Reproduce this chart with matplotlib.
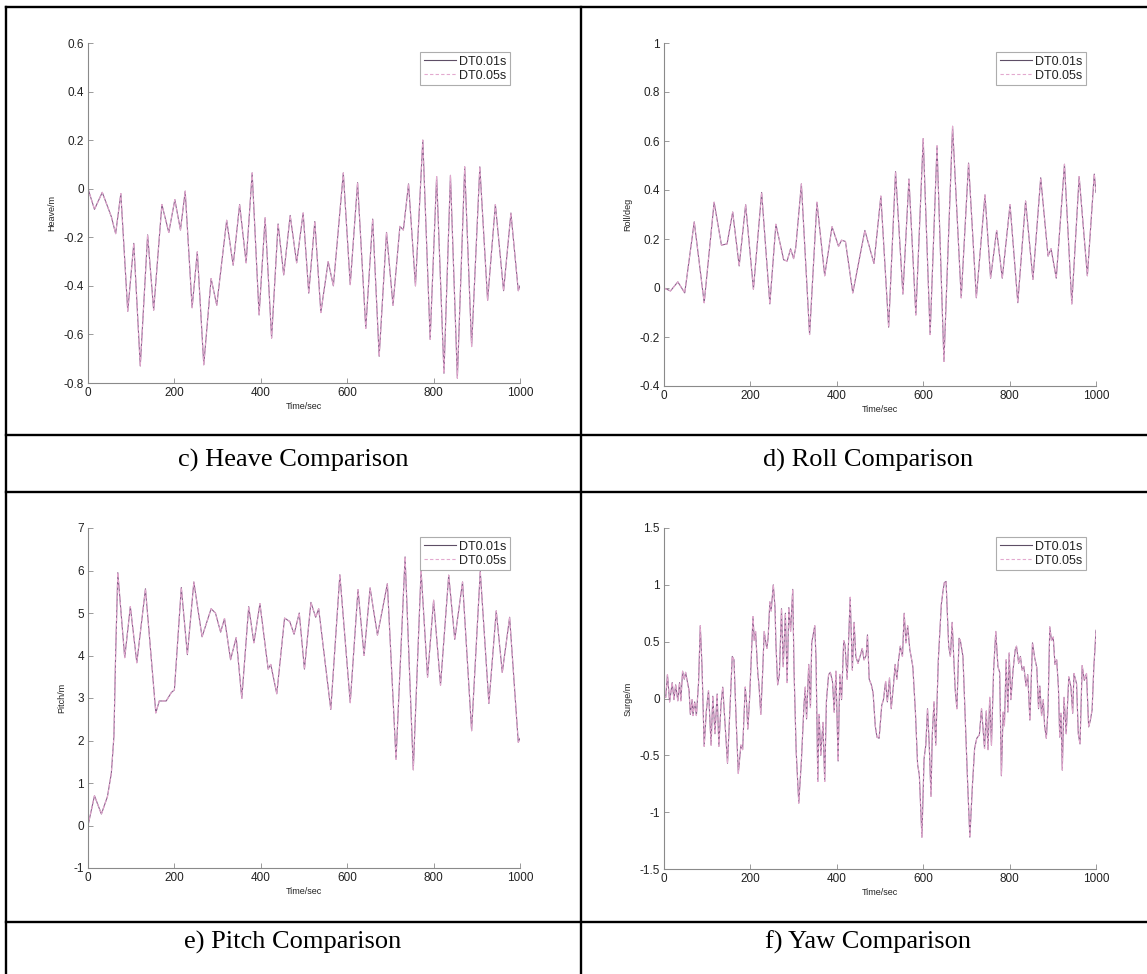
import matplotlib
matplotlib.use("Agg")
import matplotlib.pyplot as plt
from matplotlib.lines import Line2D
from matplotlib.ticker import FuncFormatter

plt.rcParams['font.family'] = ['Liberation Sans', 'DejaVu Sans']
plt.rcParams['axes.unicode_minus'] = False

# === data (time in s) ===
heave_t = [0, 15, 33, 54, 64, 76, 92, 106, 121, 138, 152, 171, 187, 201, 214, 225, 241, 253, 268,
           285, 298, 321, 336, 351, 366, 380, 396, 410, 425, 440, 453, 468, 483, 498, 511, 525,
           539, 556, 568, 591, 607, 624, 643, 659, 674, 691, 706, 722, 730, 742, 758, 775, 792,
           807, 824, 839, 855, 872, 888, 907, 925, 943, 962, 979, 996, 1000]
heave_dt001 = [0.0, -0.085, -0.015, -0.115, -0.185, -0.02, -0.505, -0.225, -0.73, -0.19, -0.5,
               -0.065, -0.18, -0.045, -0.17, -0.01, -0.49, -0.26, -0.725, -0.37, -0.48, -0.13,
               -0.315, -0.065, -0.305, 0.065, -0.52, -0.12, -0.615, -0.145, -0.355, -0.11,
               -0.305, -0.10, -0.43, -0.135, -0.51, -0.30, -0.40, 0.065, -0.395, 0.025, -0.575,
               -0.125, -0.69, -0.18, -0.48, -0.155, -0.17, 0.02, -0.40, 0.20, -0.62, 0.05,
               -0.76, 0.055, -0.78, 0.09, -0.65, 0.09, -0.46, -0.065, -0.42, -0.10, -0.42, -0.40]
heave_dt005 = list(heave_dt001)

roll_t = [0, 15, 32, 48, 70, 93, 116, 133, 146, 159, 174, 189, 207, 226, 245, 259, 277, 285, 293,
          300, 305, 318, 337, 354, 372, 389, 404, 411, 420, 437, 465, 486, 502, 520, 536, 553,
          567, 583, 600, 616, 632, 648, 668, 688, 705, 723, 743, 756, 770, 783, 801, 819, 837,
          854, 872, 889, 896, 908, 927, 944, 961, 980, 996, 1000]
roll_dt001 = [0.0, -0.012, 0.025, -0.02, 0.27, -0.06, 0.35, 0.175, 0.18, 0.31, 0.09, 0.34, -0.005,
              0.39, -0.065, 0.26, 0.115, 0.11, 0.16, 0.12, 0.165, 0.425, -0.19, 0.35, 0.05, 0.25,
              0.17, 0.195, 0.19, -0.02, 0.235, 0.10, 0.375, -0.16, 0.475, -0.025, 0.445, -0.11,
              0.61, -0.19, 0.58, -0.30, 0.66, -0.04, 0.51, -0.04, 0.38, 0.04, 0.235, 0.04, 0.34,
              -0.06, 0.355, 0.035, 0.45, 0.13, 0.16, 0.04, 0.505, -0.065, 0.455, 0.05, 0.465, 0.39]
roll_dt005 = list(roll_dt001)

pitch_t = [0, 15, 31, 45, 54, 60, 64, 69, 85, 98, 113, 133, 157, 165, 181, 193, 200, 216, 230,
           245, 264, 285, 295, 307, 316, 330, 343, 356, 372, 384, 398, 417, 423, 437, 455, 467,
           477, 489, 501, 516, 527, 534, 562, 583, 607, 625, 639, 653, 670, 693, 713, 734, 753,
           771, 786, 800, 816, 835, 849, 867, 888, 908, 928, 945, 959, 976, 996, 1000]
pitch_dt001 = [0.0, 0.7, 0.27, 0.68, 1.23, 2.1, 4.05, 5.95, 3.95, 5.15, 3.83, 5.57, 2.65, 2.93,
               2.93, 3.13, 3.19, 5.6, 4.02, 5.73, 4.44, 5.1, 5.0, 4.55, 4.87, 3.9, 4.42, 2.99,
               5.15, 4.3, 5.22, 3.68, 3.79, 3.1, 4.88, 4.8, 4.5, 5.0, 3.68, 5.25, 4.9, 5.1, 2.73,
               5.9, 2.89, 5.55, 4.0, 5.59, 4.48, 5.69, 1.56, 6.32, 1.31, 6.0, 3.49, 5.3, 3.3,
               5.89, 4.38, 5.73, 2.23, 5.98, 2.87, 5.05, 3.6, 4.9, 1.96, 2.05]
pitch_dt005 = list(pitch_dt001)

yaw_t = [0, 4, 8, 13, 19, 23, 27, 32, 36, 39, 43, 47, 50, 53, 58, 61, 65, 67, 71, 75, 80, 84, 88,
         93, 98, 103, 109, 113, 118, 123, 127, 132, 136, 141, 147, 150, 158, 162, 167, 172, 178,
         182, 188, 191, 194, 198, 206, 209, 212, 217, 220, 224, 228, 232, 235, 238, 241, 245,
         248, 253, 257, 259, 263, 267, 272, 276, 281, 285, 289, 293, 298, 301, 306, 312, 318,
         324, 327, 330, 335, 339, 342, 349, 352, 356, 359, 363, 368, 372, 376, 381, 385, 390,
         394, 398, 403, 407, 411, 416, 419, 424, 431, 436, 440, 444, 449, 453, 459, 463, 468,
         471, 475, 480, 484, 489, 493, 498, 504, 508, 513, 517, 522, 526, 531, 535, 539, 543,
         547, 552, 556, 560, 564, 569, 572, 576, 582, 587, 591, 597, 602, 606, 610, 614, 618,
         621, 625, 629, 635, 642, 646, 649, 653, 655, 659, 663, 667, 671, 674, 678, 683, 686,
         692, 698, 703, 708, 714, 719, 724, 730, 735, 738, 742, 746, 750, 754, 758, 763, 768,
         773, 777, 781, 785, 788, 792, 796, 799, 803, 808, 813, 816, 821, 825, 829, 833, 838,
         842, 847, 853, 858, 863, 867, 870, 874, 878, 881, 885, 889, 893, 897, 901, 905, 909,
         913, 916, 919, 922, 926, 931, 937, 942, 946, 949, 955, 959, 963, 968, 973, 978, 983,
         987, 991, 995, 997, 1000]
yaw_dt001 = [0.02, 0.01, 0.21, -0.03, 0.14, -0.01, 0.12, -0.02, 0.14, -0.02, 0.24, 0.17, 0.23,
             0.17, 0.07, -0.14, -0.01, -0.15, -0.03, -0.15, 0.14, 0.64, 0.28, -0.42, -0.11, 0.07,
             -0.41, 0.02, -0.31, 0.04, -0.42, -0.05, 0.10, -0.21, -0.57, -0.32, 0.37, 0.34, -0.19,
             -0.66, -0.41, -0.45, 0.10, -0.03, -0.27, -0.01, 0.72, 0.51, 0.59, 0.23, 0.11, -0.14,
             0.20, 0.59, 0.51, 0.44, 0.53, 0.85, 0.77, 1.0, 0.80, 0.49, 0.12, 0.21, 0.79, 0.28,
             0.75, 0.14, 0.80, 0.59, 0.96, 0.25, -0.47, -0.92, -0.55, -0.06, 0.10, -0.18, 0.30,
             -0.08, 0.49, 0.64, 0.34, -0.73, -0.14, -0.50, -0.21, -0.73, -0.02, 0.21, 0.23, 0.15,
             -0.12, 0.24, -0.55, 0.21, -0.01, 0.51, 0.47, 0.17, 0.89, 0.25, 0.67, 0.37, 0.31,
             0.36, 0.44, 0.34, 0.38, 0.56, 0.17, 0.12, 0.05, -0.24, -0.34, -0.35, -0.06, -0.01,
             0.15, -0.03, 0.18, -0.09, 0.11, 0.30, 0.17, 0.34, 0.46, 0.37, 0.75, 0.49, 0.64, 0.43,
             0.37, 0.28, -0.12, -0.58, -0.67, -1.22, -0.53, -0.41, -0.09, -0.41, -0.86, -0.32,
             -0.03, -0.41, 0.34, 0.83, 0.95, 1.02, 1.03, 0.83, 0.46, 0.37, 0.67, 0.34, 0.08,
             -0.09, 0.53, 0.51, 0.37, -0.24, -0.76, -1.22, -0.76, -0.44, -0.35, -0.32, -0.09,
             -0.24, -0.44, -0.11, -0.45, 0.01, -0.41, 0.25, 0.59, 0.28, 0.23, -0.68, -0.12, -0.24,
             0.34, -0.12, 0.40, -0.01, 0.25, 0.43, 0.46, 0.31, 0.37, 0.25, 0.28, 0.11, 0.21,
             -0.19, 0.49, 0.36, 0.27, -0.09, 0.11, -0.15, -0.01, -0.24, -0.35, -0.09, 0.63, 0.51,
             0.54, 0.30, 0.34, 0.10, -0.34, -0.13, -0.63, 0.01, -0.31, 0.19, 0.10, -0.13, 0.22,
             0.13, -0.31, -0.40, 0.29, 0.16, 0.22, -0.25, -0.19, -0.10, 0.28, 0.40, 0.60]
yaw_dt005 = list(yaw_dt001)

series_labels = ["DT0.01s", "DT0.05s"]
x_ticks = [0, 200, 400, 600, 800, 1000]

# === figure / table layout (pixels) ===
W, H = 1147, 974
fig = plt.figure(figsize=(W / 100, H / 100), dpi=100)


def px_axes(l, t, r, b):
    return fig.add_axes([l / W, 1 - b / H, (r - l) / W, (b - t) / H])


def fmt(v, _):
    return "%g" % round(v, 6)


panels = [
    # (axes box, t, dt001, dt005, ylim, ystep, ylabel, caption, caption xy)
    ((88, 43, 520, 383), heave_t, heave_dt001, heave_dt005, (-0.8, 0.6), 0.2, "Heave/m",
     "c) Heave Comparison", (293, 460)),
    ((664, 43, 1096, 386), roll_t, roll_dt001, roll_dt005, (-0.4, 1.0), 0.2, "Roll/deg",
     "d) Roll Comparison", (868, 460)),
    ((88, 528, 520, 868), pitch_t, pitch_dt001, pitch_dt005, (-1, 7), 1, "Pitch/m",
     "e) Pitch Comparison", (293, 942)),
    ((664, 528, 1096, 869), yaw_t, yaw_dt001, yaw_dt005, (-1.5, 1.5), 0.5, "Surge/m",
     "f) Yaw Comparison", (868, 942)),
]

for box, t, s1, s2, ylim, ystep, ylab, cap, cxy in panels:
    ax = px_axes(*box)
    ax.plot(t, s1, color="#8b5e8b", lw=0.8, label=series_labels[0])
    ax.plot(t, s2, color="#e3a9cf", lw=0.8, ls=(0, (3, 2)), label=series_labels[1])
    ax.set_xlim(0, 1000)
    ax.set_ylim(*ylim)
    ax.set_xticks(x_ticks)
    n = int(round((ylim[1] - ylim[0]) / ystep))
    ax.set_yticks([ylim[0] + i * ystep for i in range(n + 1)])
    ax.xaxis.set_major_formatter(FuncFormatter(fmt))
    ax.yaxis.set_major_formatter(FuncFormatter(fmt))
    for s in ("top", "right"):
        ax.spines[s].set_visible(False)
    for s in ("left", "bottom"):
        ax.spines[s].set_color("#8a8a8a")
        ax.spines[s].set_linewidth(0.8)
    ax.tick_params(direction="in", length=3.5, width=0.6, color="#8a8a8a",
                   labelsize=8.5, labelcolor="#222222", pad=3)
    ax.set_xlabel("Time/sec", fontsize=6.5, labelpad=2, color="#222222")
    ax.set_ylabel(ylab, fontsize=6.5, labelpad=5, color="#222222")
    bw = box[2] - box[0]
    bh = box[3] - box[1]
    leg = ax.legend(loc="upper right", bbox_to_anchor=(1 - 10 / bw, 1 - 9 / bh),
                    fontsize=9, frameon=True, fancybox=False, handlelength=2.6,
                    handletextpad=0.2, borderpad=0.3, labelspacing=0.15, borderaxespad=0)
    leg.get_frame().set_edgecolor("#999999")
    leg.get_frame().set_linewidth(0.8)
    for txt in leg.get_texts():
        txt.set_color("#222222")
    leg.get_lines()[0].set_color("#5e4e66")
    fig.text(cxy[0] / W, 1 - cxy[1] / H, cap, ha="center", va="center",
             fontsize=19, family="Liberation Serif")

# === table rules ===
lw = 1.7
rules = [
    ((6, 1147), (7, 7)),
    ((6, 1147), (435, 435)),
    ((6, 1147), (492, 492)),
    ((6, 1147), (922, 922)),
    ((6, 6), (7, 974)),
    ((581, 581), (7, 974)),
]
for xs, ys in rules:
    fig.add_artist(Line2D([x / W for x in xs], [1 - y / H for y in ys],
                          transform=fig.transFigure, color="black", lw=lw))

fig.savefig("out.png", dpi=100)
